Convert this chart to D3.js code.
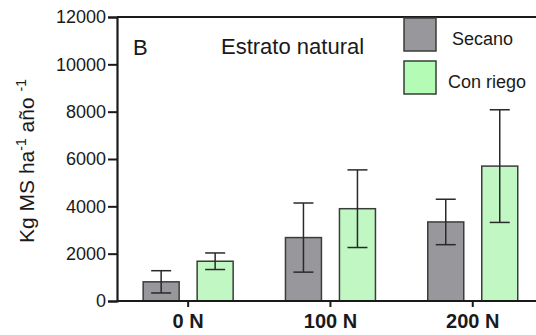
<!DOCTYPE html>
<html>
<head>
<meta charset="utf-8">
<script src="https://cdn.jsdelivr.net/npm/d3@7"></script>
<style>
  body { margin: 0; background: #fff; }
  text { font-family: Arial, 'Liberation Sans', sans-serif; fill: #1a1a1a; }
</style>
</head>
<body>
<div id="chart"></div>
<script>
const groups = ['0 N', '100 N', '200 N'];
const series = ['Secano', 'Con riego'];
const secanoMean = [810, 2680, 3340];
const secanoErr = [470, 1460, 960];
const riegoMean = [1680, 3900, 5700];
const riegoErr = [350, 1640, 2380];
const yTicks = [0, 2000, 4000, 6000, 8000, 10000, 12000];
const colors = { 'Secano': '#98979c', 'Con riego': '#c0f7c2' };
const legendColors = { 'Secano': '#98979c', 'Con riego': '#b4fbb6' };

const width = 536, height = 335;
const margin = { top: 17, right: 0, bottom: 34, left: 117 };

const rows = [];
groups.forEach((g, i) => {
  rows.push({ group: g, series: 'Secano', mean: secanoMean[i], err: secanoErr[i] });
  rows.push({ group: g, series: 'Con riego', mean: riegoMean[i], err: riegoErr[i] });
});

const svg = d3.select('#chart')
  .append('svg')
  .attr('width', width)
  .attr('height', height);

const y = d3.scaleLinear().domain([0, 12000]).range([height - margin.bottom, margin.top]);
const x = d3.scaleBand().domain(groups).range([margin.left, margin.left + 3 * 142.3]).padding(0);
const xs = d3.scaleBand().domain(series).range([-45, 45]).paddingInner(1 / 3).paddingOuter(0);

// top frame line
svg.append('line')
  .attr('x1', margin.left).attr('x2', width)
  .attr('y1', y(12000)).attr('y2', y(12000))
  .attr('stroke', '#1a1a1a').attr('stroke-width', 2);

// bars
const bar = svg.selectAll('.bar')
  .data(rows)
  .enter().append('g')
  .attr('class', 'bar')
  .attr('transform', d => 'translate(' + (x(d.group) + x.bandwidth() / 2) + ',0)');

bar.append('rect')
  .attr('x', d => xs(d.series))
  .attr('width', xs.bandwidth())
  .attr('y', d => y(d.mean))
  .attr('height', d => y(0) - y(d.mean))
  .attr('fill', d => colors[d.series])
  .attr('stroke', '#3a3d3a')
  .attr('stroke-width', 1.5);

// error bars
bar.append('line')
  .attr('x1', d => xs(d.series) + xs.bandwidth() / 2)
  .attr('x2', d => xs(d.series) + xs.bandwidth() / 2)
  .attr('y1', d => y(d.mean + d.err))
  .attr('y2', d => y(d.mean - d.err))
  .attr('stroke', '#2a2a2a').attr('stroke-width', 1.5);

[1, -1].forEach(s => {
  bar.append('line')
    .attr('x1', d => xs(d.series) + xs.bandwidth() / 2 - 10)
    .attr('x2', d => xs(d.series) + xs.bandwidth() / 2 + 10)
    .attr('y1', d => y(d.mean + s * d.err))
    .attr('y2', d => y(d.mean + s * d.err))
    .attr('stroke', '#2a2a2a').attr('stroke-width', 1.5);
});

// y axis
const yAxis = svg.append('g')
  .attr('transform', 'translate(' + margin.left + ',0)')
  .call(d3.axisLeft(y).tickValues(yTicks).tickFormat(d3.format('d')).tickSize(9).tickPadding(2));
yAxis.select('.domain').attr('stroke', '#1a1a1a').attr('stroke-width', 2.2);
yAxis.selectAll('.tick line').attr('stroke', '#1a1a1a').attr('stroke-width', 2);
yAxis.selectAll('.tick text')
  .style('font-size', '18px')
  .style('font-family', "Arial, 'Liberation Sans', sans-serif")
  .attr('fill', '#1a1a1a');

// x axis
const xAxis = svg.append('g')
  .attr('transform', 'translate(0,' + y(0) + ')')
  .call(d3.axisBottom(x).tickSize(6).tickSizeOuter(0).tickPadding(7));
xAxis.select('.domain').attr('d', 'M' + margin.left + ',0H' + width)
  .attr('stroke', '#1a1a1a').attr('stroke-width', 2.2);
xAxis.selectAll('.tick line').attr('stroke', '#1a1a1a').attr('stroke-width', 2);
xAxis.selectAll('.tick text')
  .style('font-size', '20px')
  .style('font-weight', 'bold')
  .style('font-family', "Arial, 'Liberation Sans', sans-serif")
  .attr('fill', '#1a1a1a');

// y label
const yLabel = svg.append('text')
  .attr('transform', 'translate(34,' + 161 + ') rotate(-90)')
  .attr('text-anchor', 'middle')
  .style('font-size', '21px');
yLabel.append('tspan').text('Kg MS ha');
yLabel.append('tspan').attr('dy', -8).style('font-size', '14px').text('-1');
yLabel.append('tspan').attr('dy', 8).text(' año ');
yLabel.append('tspan').attr('dy', -8).style('font-size', '14px').text('-1');

// panel letter and title
svg.append('text')
  .attr('x', 133).attr('y', 55)
  .style('font-size', '22px')
  .text('B');

svg.append('text')
  .attr('x', 221).attr('y', 54)
  .style('font-size', '22px')
  .text('Estrato natural');

// legend
const legend = svg.append('g').attr('transform', 'translate(404,18)');
series.forEach((s, i) => {
  legend.append('rect')
    .attr('x', 0).attr('y', i * 43)
    .attr('width', 32).attr('height', 33)
    .attr('fill', legendColors[s])
    .attr('stroke', '#3a3d3a').attr('stroke-width', 1.5);
  legend.append('text')
    .attr('x', i === 0 ? 48 : 44).attr('y', i * 43 + 27)
    .style('font-size', '18px')
    .text(s);
});
</script>
</body>
</html>
